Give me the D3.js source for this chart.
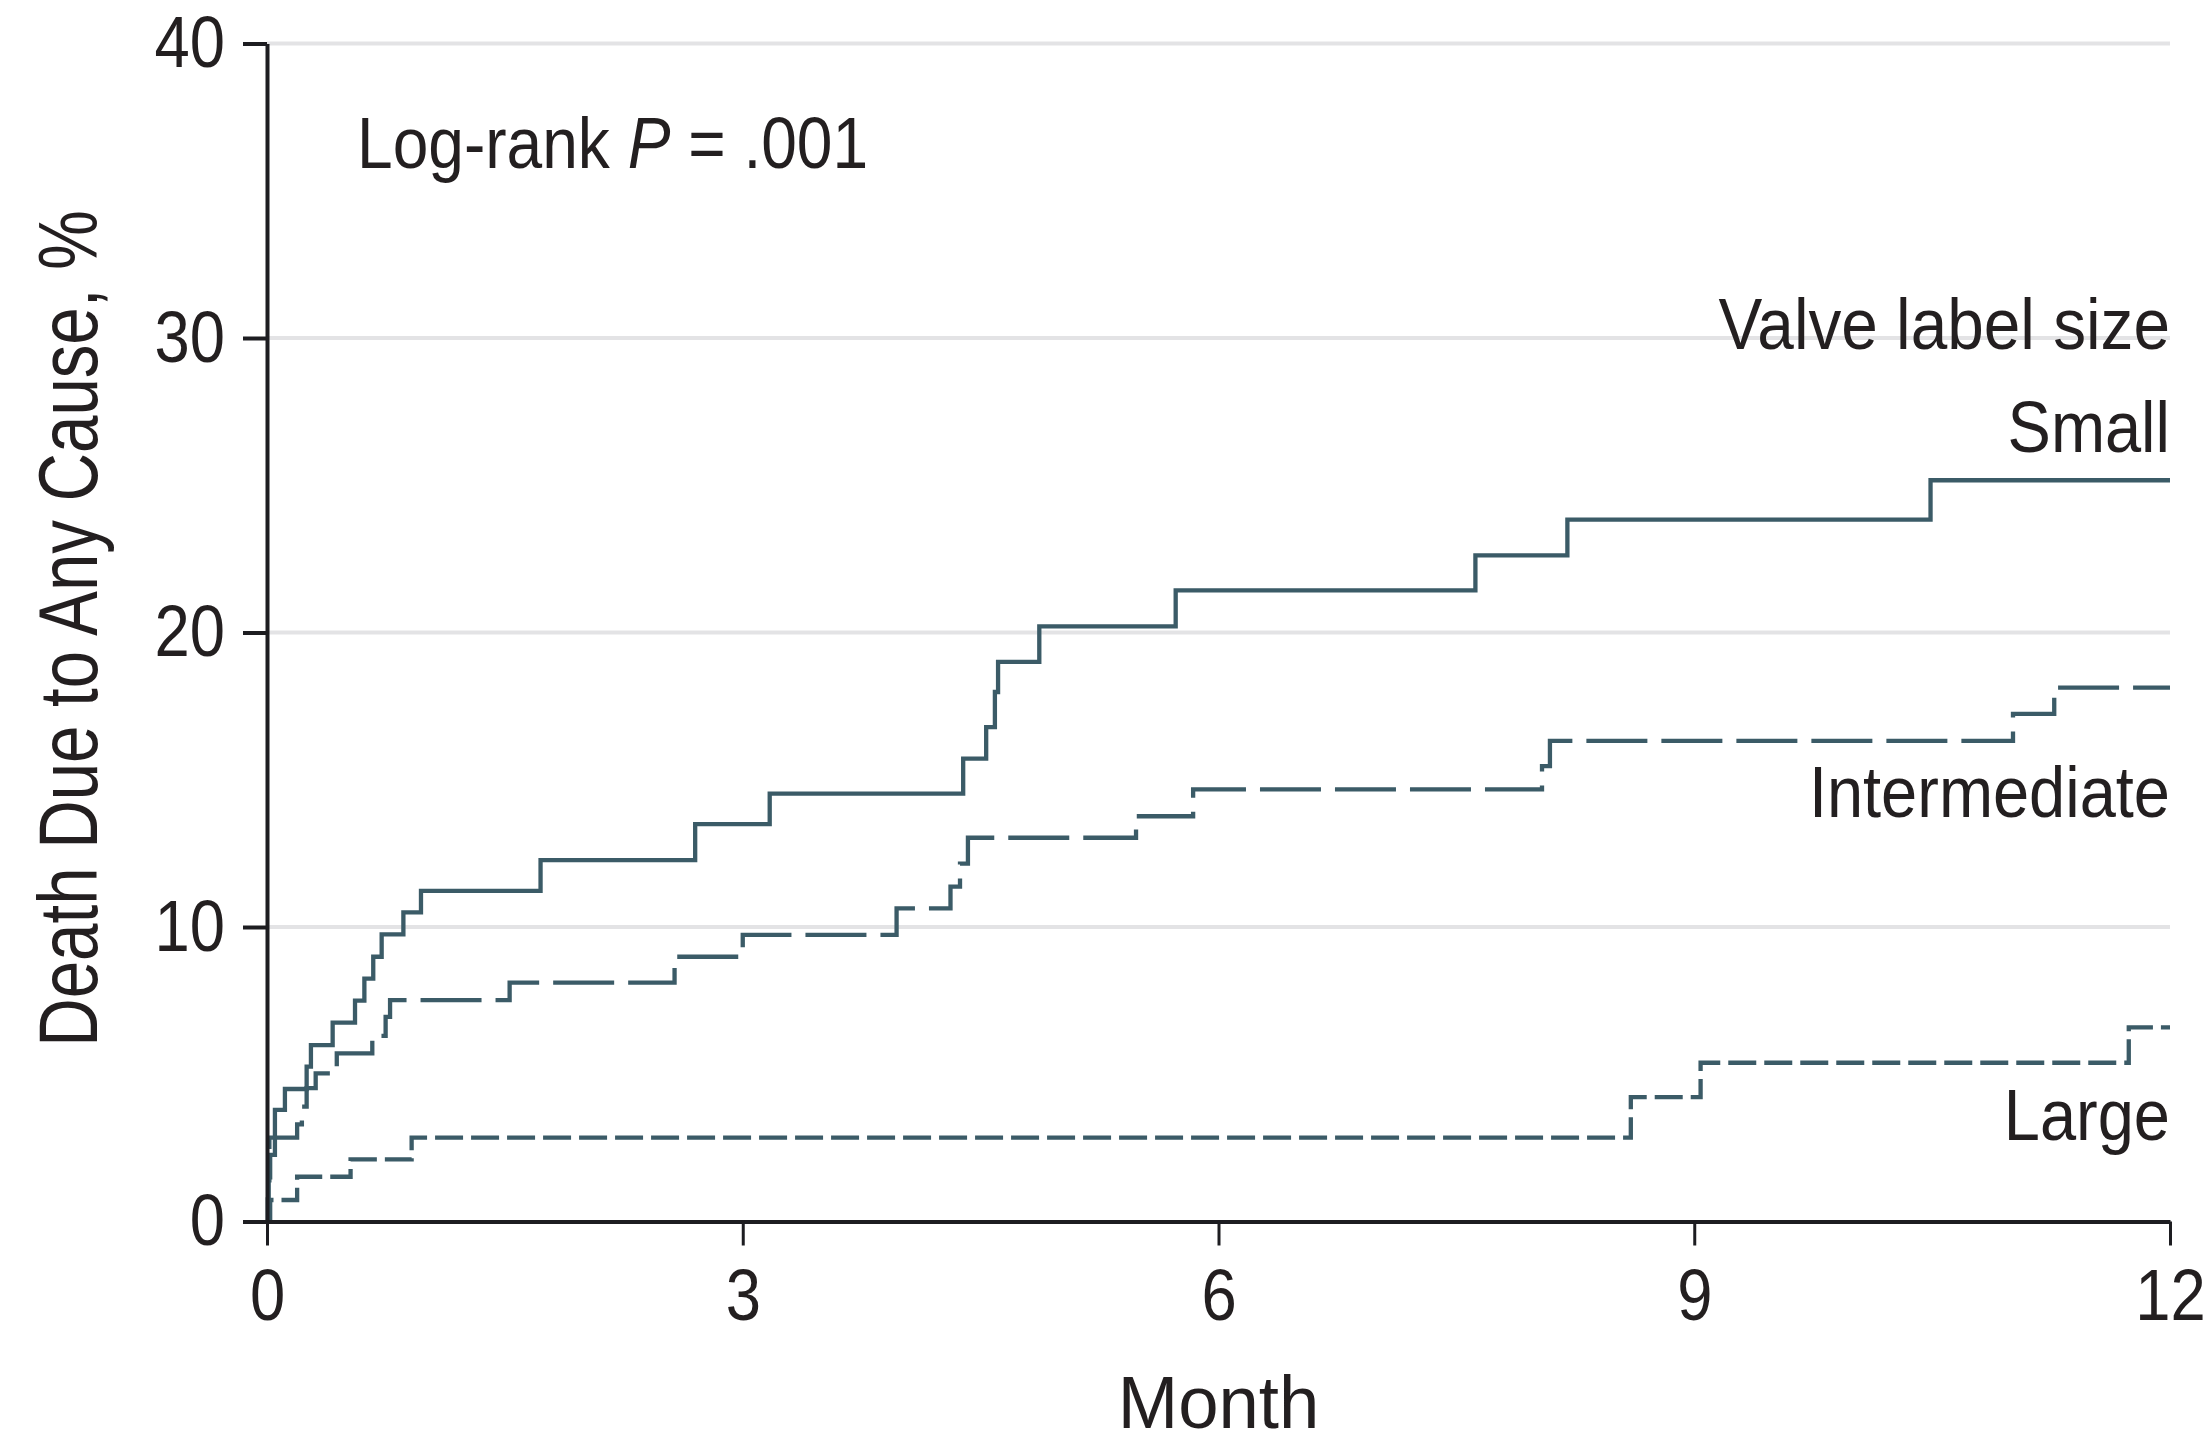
<!DOCTYPE html>
<html>
<head>
<meta charset="utf-8">
<script src="https://cdn.jsdelivr.net/npm/d3@7/dist/d3.min.js"></script>
<style>
  html, body { margin: 0; padding: 0; background: #fff; }
  svg { display: block; }
  text { font-family: "Liberation Sans Narrow", "Arial Narrow", "Liberation Sans", sans-serif; fill: #231f20; }
</style>
</head>
<body>
<div id="chart"></div>
<script>
// Kaplan-Meier steps (month, cumulative % dead)
const smallMonths = [0, 0.005, 0.01, 0.02, 0.05, 0.113, 0.25, 0.277, 0.414, 0.555, 0.614, 0.67, 0.723, 0.86, 0.971, 1.725, 2.70, 3.17, 4.39, 4.535, 4.59, 4.61, 4.87, 5.73, 7.62, 8.20, 10.49, 12];
const smallValues = [0, 0.75, 1.5, 2.26, 3.79, 4.50, 5.26, 5.99, 6.75, 7.50, 8.25, 8.99, 9.75, 10.5, 11.23, 12.27, 13.49, 14.53, 15.72, 16.79, 17.98, 19.0, 20.21, 21.43, 22.62, 23.83, 25.17, 25.17];

const interMonths = [0, 0.008, 0.015, 0.19, 0.22, 0.25, 0.307, 0.44, 0.664, 0.748, 0.776, 1.53, 2.57, 3.0, 3.97, 4.31, 4.37, 4.42, 5.48, 5.84, 8.04, 8.09, 11.01, 11.27, 12];
const interValues = [0, 1.4, 2.85, 3.3, 3.9, 4.53, 5.03, 5.71, 6.3, 6.95, 7.52, 8.11, 8.99, 9.73, 10.63, 11.37, 12.15, 13.03, 13.76, 14.67, 15.46, 16.32, 17.24, 18.13, 18.13];

const largeMonths = [0, 0.02, 0.19, 0.527, 0.912, 8.60, 9.04, 11.74, 12];
const largeValues = [0, 0.73, 1.52, 2.11, 2.85, 4.22, 5.39, 6.59, 6.59];

const xTicks = [0, 3, 6, 9, 12];
const yTicks = [0, 10, 20, 30, 40];
const seriesNames = ['Small', 'Intermediate', 'Large'];

const width = 2212;
const height = 1445;
const margin = { top: 43.5, right: 42, bottom: 223.5, left: 267 };
const LINE = '#3b5b67';
const AXIS = '#1d1d21';

const svg = d3.select('#chart').append('svg').attr('width', width).attr('height', height);

const x = d3.scaleLinear().domain([0, 12]).range([margin.left, width - margin.right]);
const y = d3.scaleLinear().domain([0, 40]).range([height - margin.bottom, margin.top]);

// no condensed font available, so squeeze the text horizontally around its anchor
function squeeze(sel, k) {
  sel.each(function () {
    const t = d3.select(this);
    const tx = +t.attr('x') || 0;
    const ty = +t.attr('y') || 0;
    const prev = t.attr('transform') || '';
    t.attr('x', 0).attr('y', 0).attr('transform', `${prev} translate(${tx},${ty}) scale(${k},1)`);
  });
}

// gridlines
svg.append('g')
  .selectAll('line')
  .data(yTicks.filter((d) => d > 0))
  .join('line')
  .attr('x1', x(0))
  .attr('x2', x(12))
  .attr('y1', (d) => y(d))
  .attr('y2', (d) => y(d))
  .attr('stroke', '#e3e3e5')
  .attr('stroke-width', 4);

const toPoints = (ms, vs) => ms.map((m, i) => [m, vs[i]]);
const series = [
  { name: seriesNames[0], points: toPoints(smallMonths, smallValues), dash: null },
  { name: seriesNames[1], points: toPoints(interMonths, interValues), dash: '61 14' },
  { name: seriesNames[2], points: toPoints(largeMonths, largeValues), dash: '28 8' },
];

const line = d3
  .line()
  .x((d) => x(d[0]))
  .y((d) => y(d[1]))
  .curve(d3.curveStepAfter);

svg.append('g')
  .selectAll('path')
  .data(series)
  .join('path')
  .attr('d', (d) => line(d.points))
  .attr('fill', 'none')
  .attr('stroke', LINE)
  .attr('stroke-width', 4.3)
  .attr('stroke-dasharray', (d) => d.dash);

// axes
const yAxis = svg.append('g')
  .attr('transform', `translate(${x(0)},0)`)
  .call(d3.axisLeft(y).tickValues(yTicks).tickSize(24).tickSizeOuter(0).tickPadding(18));
yAxis.select('.domain').attr('stroke', AXIS).attr('stroke-width', 4);
yAxis.selectAll('.tick line').attr('stroke', AXIS).attr('stroke-width', 4);
yAxis.selectAll('.tick text').attr('font-size', 72).attr('fill', '#231f20').attr('font-family', null)
  .call(squeeze, 0.88);

const xAxis = svg.append('g')
  .attr('transform', `translate(0,${y(0)})`)
  .call(d3.axisBottom(x).tickValues(xTicks).tickSize(24).tickSizeOuter(0).tickPadding(23));
xAxis.select('.domain').attr('stroke', AXIS).attr('stroke-width', 4);
xAxis.selectAll('.tick line').attr('stroke', AXIS).attr('stroke-width', 3);
xAxis.selectAll('.tick text').attr('font-size', 72).attr('fill', '#231f20').attr('font-family', null)
  .call(squeeze, 0.88);

// axis titles
svg.append('text')
  .attr('x', (x(0) + x(12)) / 2)
  .attr('y', 1428)
  .attr('text-anchor', 'middle')
  .attr('font-size', 74)
  .text('Month')
  .call(squeeze, 0.98);

svg.append('text')
  .attr('transform', `translate(97,${(y(0) + y(40)) / 2 - 4}) rotate(-90)`)
  .attr('text-anchor', 'middle')
  .attr('font-size', 84)
  .text('Death Due to Any Cause, %')
  .call(squeeze, 0.8);

// annotation
const pText = svg.append('text').attr('x', 357).attr('y', 168).attr('font-size', 72);
pText.append('tspan').text('Log-rank ');
pText.append('tspan').attr('font-style', 'italic').text('P');
pText.append('tspan').text(' = .001');
pText.call(squeeze, 0.89);

// legend-style labels at right
svg.append('text')
  .attr('x', x(12))
  .attr('y', 349)
  .attr('text-anchor', 'end')
  .attr('font-size', 73)
  .text('Valve label size')
  .call(squeeze, 0.9);

const labelBaselines = [452, 817, 1140];
svg.append('g')
  .selectAll('text')
  .data(seriesNames)
  .join('text')
  .attr('x', x(12))
  .attr('y', (d, i) => labelBaselines[i])
  .attr('text-anchor', 'end')
  .attr('font-size', 73)
  .text((d) => d)
  .call(squeeze, 0.89);
</script>
</body>
</html>
